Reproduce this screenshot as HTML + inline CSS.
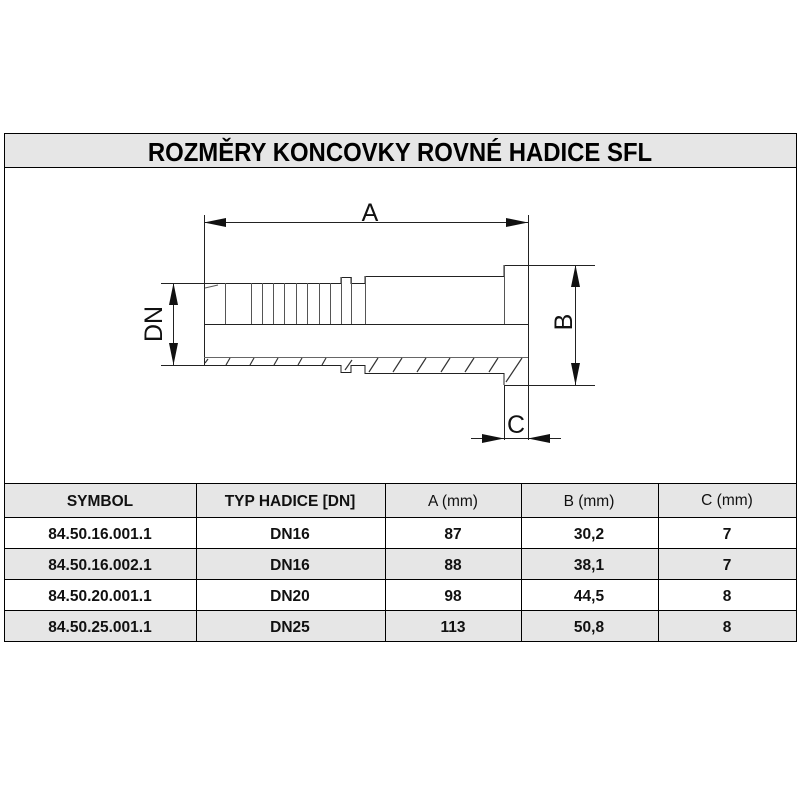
<!DOCTYPE html>
<html><head><meta charset="utf-8"><style>
body{margin:0;background:#fff;width:800px;height:800px;position:relative;font-family:"Liberation Sans",sans-serif;overflow:hidden}
svg{position:absolute;left:0;top:0}
</style></head><body>
<svg width="800" height="800" viewBox="0 0 800 800" xmlns="http://www.w3.org/2000/svg" font-family="Liberation Sans, sans-serif">
<rect x="4.5" y="133.5" width="792" height="34" fill="#e6e6e6" stroke="#000"/>
<text x="400" y="161" text-anchor="middle" font-size="26" font-weight="bold" transform="translate(400 0) scale(0.92 1) translate(-400 0)">ROZMĚRY KONCOVKY ROVNÉ HADICE SFL</text>
<rect x="4.5" y="167.5" width="792" height="474" fill="none" stroke="#000"/>
<rect x="4.5" y="483.5" width="792" height="34" fill="#e6e6e6"/>
<rect x="4.5" y="549" width="792" height="31" fill="#e6e6e6"/>
<rect x="4.5" y="611" width="792" height="30" fill="#e6e6e6"/>
<g stroke="#000" stroke-width="1">
<line x1="4" y1="483.5" x2="797" y2="483.5"/>
<line x1="4" y1="517.5" x2="797" y2="517.5"/>
<line x1="4" y1="548.5" x2="797" y2="548.5"/>
<line x1="4" y1="579.5" x2="797" y2="579.5"/>
<line x1="4" y1="610.5" x2="797" y2="610.5"/>
<line x1="4" y1="641.5" x2="797" y2="641.5"/>
<line x1="4.5" y1="483" x2="4.5" y2="642"/>
<line x1="196.5" y1="483" x2="196.5" y2="642"/>
<line x1="385.5" y1="483" x2="385.5" y2="642"/>
<line x1="521.5" y1="483" x2="521.5" y2="642"/>
<line x1="658.5" y1="483" x2="658.5" y2="642"/>
<line x1="796.5" y1="483" x2="796.5" y2="642"/>
</g>
<g font-size="15.5" font-weight="bold" text-anchor="middle" fill="#111">
<text x="100" y="506">SYMBOL</text><text x="290" y="506">TYP HADICE [DN]</text><text x="453" y="506" font-weight="normal">A (mm)</text><text x="589" y="506" font-weight="normal">B (mm)</text><text x="727" y="505" font-weight="normal">C (mm)</text>
<text x="100" y="539">84.50.16.001.1</text><text x="290" y="539">DN16</text><text x="453" y="539">87</text><text x="589" y="539">30,2</text><text x="727" y="539">7</text>
<text x="100" y="570">84.50.16.002.1</text><text x="290" y="570">DN16</text><text x="453" y="570">88</text><text x="589" y="570">38,1</text><text x="727" y="570">7</text>
<text x="100" y="601">84.50.20.001.1</text><text x="290" y="601">DN20</text><text x="453" y="601">98</text><text x="589" y="601">44,5</text><text x="727" y="601">8</text>
<text x="100" y="632">84.50.25.001.1</text><text x="290" y="632">DN25</text><text x="453" y="632">113</text><text x="589" y="632">50,8</text><text x="727" y="632">8</text>
</g>
<g stroke="#222" stroke-width="1" fill="none">
<line x1="204.5" y1="215" x2="204.5" y2="365"/>
<line x1="528.5" y1="215" x2="528.5" y2="385"/>
<line x1="204" y1="222.5" x2="528" y2="222.5"/>
<line x1="161" y1="283.5" x2="204" y2="283.5"/>
<line x1="161" y1="365.5" x2="204" y2="365.5"/>
<line x1="173.5" y1="283" x2="173.5" y2="365"/>
<line x1="504" y1="265.5" x2="595" y2="265.5"/>
<line x1="504" y1="385.5" x2="595" y2="385.5"/>
<line x1="575.5" y1="265" x2="575.5" y2="385"/>
<line x1="504.5" y1="385" x2="504.5" y2="440"/>
<line x1="528.5" y1="385" x2="528.5" y2="440"/>
<line x1="471" y1="438.5" x2="561" y2="438.5"/>
<polyline points="204,283.5 341,283.5 341,277.5 351,277.5 351,283.5 365,283.5 365,276.5 504,276.5 504,265.5 528,265.5"/>
<line x1="204" y1="324.5" x2="528" y2="324.5"/>
<line x1="204" y1="357.5" x2="528" y2="357.5" stroke="#666"/>
<polyline points="204,365.5 341,365.5 341,372.5 351,372.5 351,365.5 365,365.5 365,373.5 504,373.5 504,385"/>
</g>
<g stroke="#555" stroke-width="1">
<line x1="225.5" y1="283" x2="225.5" y2="324"/>
<line x1="251.5" y1="283" x2="251.5" y2="324"/>
<line x1="262.5" y1="283" x2="262.5" y2="324"/>
<line x1="273.5" y1="283" x2="273.5" y2="324"/>
<line x1="284.5" y1="283" x2="284.5" y2="324"/>
<line x1="296.5" y1="283" x2="296.5" y2="324"/>
<line x1="307.5" y1="283" x2="307.5" y2="324"/>
<line x1="319.5" y1="283" x2="319.5" y2="324"/>
<line x1="330.5" y1="283" x2="330.5" y2="324"/>
<line x1="341.5" y1="277" x2="341.5" y2="324"/>
<line x1="351.5" y1="277" x2="351.5" y2="324"/>
<line x1="365.5" y1="276" x2="365.5" y2="324"/>
<line x1="504.5" y1="265" x2="504.5" y2="324"/>
<line x1="205" y1="288" x2="218" y2="285"/>
</g>
<g stroke="#333" stroke-width="1.2">
<line x1="226" y1="365" x2="230" y2="358"/>
<line x1="250" y1="365" x2="254" y2="358"/>
<line x1="274" y1="365" x2="278" y2="358"/>
<line x1="298" y1="365" x2="302" y2="358"/>
<line x1="322" y1="365" x2="326" y2="358"/>
<line x1="345" y1="370" x2="352" y2="360"/>
<line x1="369" y1="372" x2="378" y2="358"/>
<line x1="393" y1="372" x2="402" y2="358"/>
<line x1="417" y1="372" x2="426" y2="358"/>
<line x1="441" y1="372" x2="450" y2="358"/>
<line x1="465" y1="372" x2="474" y2="358"/>
<line x1="489" y1="372" x2="498" y2="358"/>
<line x1="506" y1="382" x2="522" y2="358"/>
<line x1="205" y1="363" x2="208" y2="359"/>
</g>
<g fill="#111">
<polygon points="204,222.5 226,218 226,227"/>
<polygon points="528,222.5 506,218 506,227"/>
<polygon points="173.5,283 169,305 178,305"/>
<polygon points="173.5,365 169,343 178,343"/>
<polygon points="575.5,265 571,287 580,287"/>
<polygon points="575.5,385 571,363 580,363"/>
<polygon points="504,438.5 482,434 482,443"/>
<polygon points="528,438.5 550,434 550,443"/>
</g>
<g font-size="25" fill="#111" text-anchor="middle">
<text x="370" y="221">A</text>
<text x="516" y="433">C</text>
<text transform="translate(162 324) rotate(-90)" y="0">DN</text>
<text transform="translate(572 322) rotate(-90)" y="0">B</text>
</g>
</svg>
</body></html>
